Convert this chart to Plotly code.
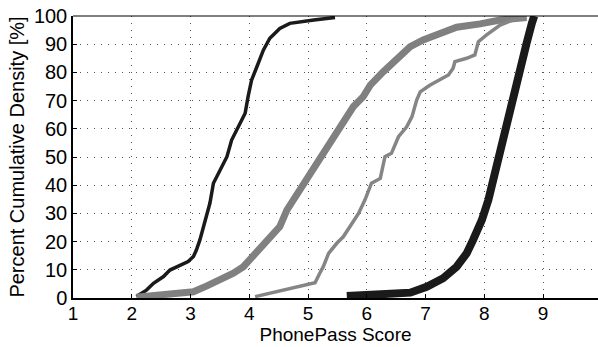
import plotly.graph_objects as go

# Curve A: thin black
a_x = [2.08, 2.25, 2.37, 2.54, 2.65, 2.82, 2.96, 3.05, 3.10, 3.16, 3.25, 3.33, 3.39, 3.50, 3.62, 3.70,
       3.79, 3.87, 3.93, 3.98, 4.04, 4.13, 4.24, 4.35, 4.52, 4.69, 4.86, 5.10, 5.46]
a_y = [0.5, 2.8, 5.2, 7.6, 9.9, 11.7, 12.9, 14.7, 17.0, 20.6, 27.7, 33.6, 40.7, 45.4, 50.1, 56.0,
       59.6, 63.1, 65.5, 71.4, 77.3, 82.0, 87.9, 92.1, 95.6, 97.4, 98.0, 98.6, 99.5]

# Curve B: thick gray
b_x = [2.08, 2.42, 2.82, 3.05, 3.28, 3.50, 3.73, 3.90, 4.01, 4.13, 4.30, 4.44, 4.52, 4.64, 4.75, 4.86,
       5.09, 5.26, 5.43, 5.60, 5.77, 5.94, 6.06, 6.28, 6.51, 6.74, 6.96, 7.25, 7.53, 7.93, 8.27, 8.72]
b_y = [0.3, 1.0, 1.7, 2.2, 4.3, 6.4, 8.8, 11.1, 13.5, 17.0, 20.0, 22.9, 25.3, 31.2, 34.8, 38.5,
       45.4, 51.3, 56.0, 62.0, 67.8, 71.4, 75.5, 80.2, 85.0, 89.1, 91.5, 93.9, 96.0, 97.2, 98.6, 99.5]

# Curve C: thin gray
c_x = [4.10, 4.47, 4.86, 5.12, 5.20, 5.26, 5.35, 5.49, 5.60, 5.71, 5.86, 5.97, 6.08, 6.23, 6.31, 6.42,
       6.54, 6.68, 6.77, 6.85, 6.91, 7.08, 7.25, 7.39, 7.47, 7.50, 7.70, 7.84, 7.90, 8.04, 8.27, 8.49, 8.72]
c_y = [0.5, 2.2, 4.3, 5.4, 8.8, 11.1, 15.8, 19.4, 21.7, 25.3, 30.0, 34.8, 40.7, 42.4, 50.1, 51.3,
       57.2, 60.7, 64.3, 70.2, 73.1, 75.5, 77.3, 79.1, 81.5, 83.8, 85.0, 86.2, 90.9, 93.3, 96.8, 98.6, 99.5]

# Curve D: thick black
d_x = [5.66, 6.28, 6.74, 7.02, 7.30, 7.53, 7.70, 7.81, 7.96, 8.07, 8.15, 8.24, 8.32, 8.41, 8.52, 8.61,
       8.72, 8.81, 8.85]
d_y = [0.7, 1.1, 1.9, 4.0, 7.0, 11.1, 15.8, 20.6, 27.7, 34.8, 41.8, 49.0, 57.2, 65.5, 72.6, 82.0,
       90.3, 97.4, 100.0]

x_ticks = [1, 2, 3, 4, 5, 6, 7, 8, 9]
y_ticks = [0, 10, 20, 30, 40, 50, 60, 70, 80, 90, 100]

FONT = "Liberation Sans, Arial, sans-serif"

fig = go.Figure()
fig.add_trace(go.Scatter(x=a_x, y=a_y, mode="lines", line=dict(color="#1a1a1a", width=3.5)))
fig.add_trace(go.Scatter(x=b_x, y=b_y, mode="lines", line=dict(color="#808080", width=7)))
fig.add_trace(go.Scatter(x=c_x, y=c_y, mode="lines", line=dict(color="#858585", width=3.5)))
fig.add_trace(go.Scatter(x=d_x, y=d_y, mode="lines", line=dict(color="#1a1a1a", width=8)))

fig.update_layout(
    width=598, height=347,
    margin=dict(l=73, r=0, t=16, b=49),
    paper_bgcolor="white", plot_bgcolor="white",
    showlegend=False,
    font=dict(family=FONT, size=20, color="black"),
    xaxis=dict(
        range=[1, 9.936], tickvals=x_ticks, ticktext=[str(v) for v in x_ticks],
        showline=True, linecolor="black", linewidth=2,
        ticks="inside", ticklen=4, tickcolor="black",
        showgrid=True, gridcolor="#555555", gridwidth=1, griddash="1px,6px",
        zeroline=False,
        ticklabelstandoff=-3,
        title=dict(text="PhonePass Score", standoff=5, font=dict(size=19)),
        tickfont=dict(size=19),
    ),
    yaxis=dict(
        range=[0, 100], tickvals=y_ticks, ticktext=[str(v) for v in y_ticks],
        showline=True, linecolor="black", linewidth=1.5,
        ticks="inside", ticklen=4, tickcolor="black",
        showgrid=True, gridcolor="#555555", gridwidth=1, griddash="1px,6px",
        zeroline=False,
        title=dict(text="Percent Cumulative Density [%]", standoff=4, font=dict(size=20)),
        tickfont=dict(size=20),
    ),
    shapes=[dict(type="line", xref="paper", yref="paper", x0=0, x1=1, y0=1, y1=1,
                 line=dict(color="black", width=1.2))],
)

fig.write_html("out.html")
